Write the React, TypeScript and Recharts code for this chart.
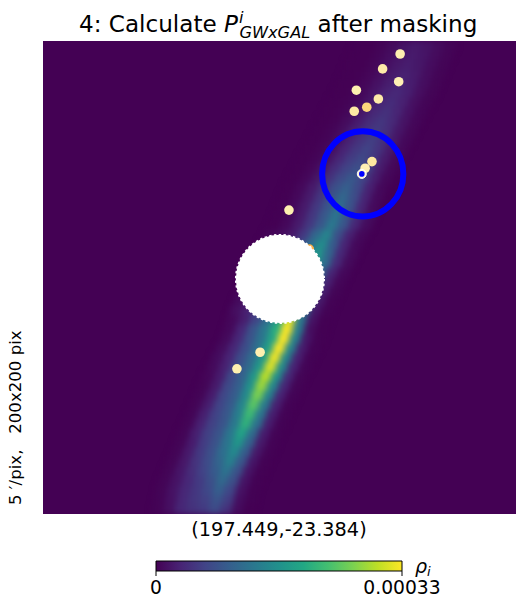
import { ScatterChart, Scatter, XAxis, YAxis, ReferenceArea } from 'recharts';

const FONT = '"DejaVu Sans", sans-serif';
const PLOT = 473;
const PX_PER_UNIT = PLOT / 200;
const CELL = 4;
const COL_STEP = 4.8;
const CORE_INDEX = 5;

const viridis = ['#440154', '#482475', '#414487', '#355f8d', '#2a788e', '#21918c', '#22a884', '#44bf70', '#7ad151', '#bddf26', '#fde725'];

// column (map pixels) of the band's ridge in each 4-pixel row
const rowCore = [
  157.7, 156.2, 154.5, 152.9, 151.2, 149.5, 147.4, 145.2, 143.1, 141,
  139.1, 137, 134.9, 132.8, 130.7, 128.5, 126.9, 125.2, 123.7, 122.2,
  120.1, 118, 116.3, 114.6, 112.5, 110.8, 109.1, 107.4, 105.7, 104.3,
  103.2, 101.8, 99.9, 98, 96.2, 94.1, 92.4, 90.7, 89, 87.3,
  85.8, 83.9, 82.5, 80.8, 79.1, 77.4, 75.7, 74.4, 73.6, 72.7,
];

// probability across each row, as a fraction of the colour range; ridge is at CORE_INDEX
const rowValues = [
  [0, 0, .01, .03, .055, .07, .055, .03, .01],
  [0, 0, .012, .032, .058, .074, .058, .03, .01],
  [0, 0, .013, .035, .063, .08, .062, .032, .01],
  [0, .002, .015, .04, .07, .09, .07, .034, .01],
  [0, .003, .017, .047, .08, .1, .078, .036, .01],
  [0, .004, .02, .053, .092, .115, .087, .04, .01],
  [0, .005, .02, .055, .1, .125, .09, .04, .01],
  [0, .006, .025, .065, .112, .14, .102, .047, .012],
  [0, .007, .03, .075, .124, .155, .115, .053, .014],
  [0, .008, .034, .085, .137, .17, .127, .06, .016],
  [0, .009, .037, .092, .146, .183, .137, .065, .018],
  [0, .01, .04, .1, .16, .2, .15, .07, .02],
  [0, .012, .046, .11, .176, .22, .163, .073, .02],
  [0, .014, .054, .125, .195, .245, .18, .077, .02],
  [0, .017, .062, .14, .22, .275, .2, .085, .02],
  [0, .02, .07, .15, .24, .3, .22, .09, .02],
  [0, .02, .07, .155, .25, .33, .235, .097, .024],
  [0, .02, .07, .16, .26, .36, .25, .105, .027],
  [0, .02, .07, .16, .27, .385, .26, .11, .03],
  [0, .02, .07, .16, .27, .4, .27, .11, .03],
  [.01, .03, .07, .17, .33, .45, .24, .09, .02],
  [.01, .04, .08, .19, .36, .48, .28, .1, .02],
  [.01, .04, .09, .2, .38, .52, .32, .11, .025],
  [.01, .05, .1, .22, .41, .56, .36, .12, .025],
  [.02, .05, .11, .24, .43, .6, .34, .1, .02],
  [.02, .06, .13, .26, .46, .65, .34, .09, .015],
  [.03, .07, .15, .3, .5, .72, .35, .08, .01],
  [.03, .08, .17, .32, .52, .8, .36, .07, .005],
  [.04, .09, .19, .34, .54, .9, .38, .06, .005],
  [.02, .08, .2, .35, .56, .96, .4, .05, 0],
  [.02, .11, .26, .4, .62, 1, .42, .04, 0],
  [.025, .11, .25, .38, .58, 1, .44, .06, .003],
  [.03, .11, .23, .36, .55, 1, .45, .08, .005],
  [.03, .1, .23, .35, .54, .98, .46, .09, .007],
  [.025, .09, .225, .33, .53, .95, .48, .1, .008],
  [.015, .075, .22, .315, .525, .9, .5, .115, .01],
  [.01, .07, .215, .3, .5, .85, .47, .11, .01],
  [.01, .075, .21, .29, .47, .8, .44, .1, .008],
  [.01, .08, .2, .28, .45, .74, .41, .09, .007],
  [.01, .085, .195, .27, .42, .68, .39, .085, .006],
  [.01, .09, .19, .26, .4, .64, .375, .08, .005],
  [.01, .085, .185, .257, .39, .58, .345, .075, .005],
  [.01, .075, .175, .25, .38, .52, .31, .07, .005],
  [.01, .07, .165, .245, .36, .47, .29, .065, .005],
  [.01, .065, .15, .225, .32, .43, .27, .06, .004],
  [.01, .06, .13, .2, .28, .38, .25, .055, .003],
  [.01, .05, .11, .17, .24, .34, .24, .05, .003],
  [.01, .05, .11, .16, .215, .3, .21, .045, .002],
  [.008, .045, .11, .155, .19, .26, .18, .035, .002],
  [.005, .04, .11, .145, .17, .23, .15, .03, .001],
];

const galaxyX = [151, 143.6, 150.4, 132.5, 141.8, 136.9, 131.6, 139.1, 136.2, 104, 91.8, 82];
const galaxyY = [5.5, 11.8, 17.2, 20.8, 24.5, 28, 29.7, 51, 53.8, 71.5, 131.6, 138.6];
const galaxyColor = ['#fef0b0', '#feeaa8', '#fef0b4', '#fef0b0', '#feeaa8', '#fed77c', '#fee9a4', '#fee8a0', '#fef0b4', '#fef0b0', '#fef0b0', '#fef0b0'];

const maskedGalaxy = [{ x: 112.6, y: 88, color: '#fdb048' }];
const hostPoint = [{ x: 134.8, y: 56.2 }];
const ringCenter = [{ x: 135.2, y: 56.2 }];
const maskCenter = [{ x: 100.2, y: 100.6 }];
const MASK_RADIUS = 19;

const cbarTicks = [0, 0.00033];
const cbarTickLabels = ['0', '0.00033'];
const cbarAnchor = cbarTicks.map((x) => ({ x, y: 0 }));

const colorFor = (v: number) => {
  const t = Math.min(1, Math.max(0, v)) * (viridis.length - 1);
  const i = Math.min(viridis.length - 2, Math.floor(t));
  const parse = (h: string) => [1, 3, 5].map((k) => parseInt(h.slice(k, k + 2), 16));
  const a = parse(viridis[i]);
  const b = parse(viridis[i + 1]);
  const c = a.map((ch, k) => Math.round(ch + (b[k] - ch) * (t - i)));
  return `rgb(${c[0]},${c[1]},${c[2]})`;
};

const heatCells = rowValues.flatMap((row, r) =>
  row.map((v, k) => ({ x: rowCore[r] + (k - CORE_INDEX) * COL_STEP, y: (r + 0.5) * CELL, v }))
);
const galaxies = galaxyX.map((x, i) => ({ x, y: galaxyY[i], color: galaxyColor[i] }));

const cellShape = (p: any) => {
  const w = COL_STEP * PX_PER_UNIT + 0.6;
  const h = CELL * PX_PER_UNIT + 0.6;
  return <rect x={p.cx - w / 2} y={p.cy - h / 2} width={w} height={h} fill={colorFor(p.payload.v)} />;
};

// dashed white edge gives the rough look of the masked map pixels
const maskShape = (p: any) => (
  <circle
    cx={p.cx}
    cy={p.cy}
    r={MASK_RADIUS * PX_PER_UNIT - 0.8}
    fill="#fff"
    stroke="#fff"
    strokeWidth={1.8}
    strokeDasharray="2.4 2.4"
  />
);

const galaxyShape = (p: any) => <circle cx={p.cx} cy={p.cy} r={4.8} fill={p.payload.color} />;
const ringShape = (p: any) => <ellipse cx={p.cx} cy={p.cy} rx={40.6} ry={42.6} fill="none" stroke="#0000ff" strokeWidth={6} />;
const hostShape = (p: any) => (
  <g>
    <circle cx={p.cx} cy={p.cy} r={4.5} fill="#fef6d0" stroke="#fff" strokeWidth={1} />
    <circle cx={p.cx} cy={p.cy} r={2.8} fill="#0000ff" />
  </g>
);
const noShape = () => <g />;

const absText = { position: 'absolute', fontFamily: FONT, color: '#000', whiteSpace: 'pre', lineHeight: 1 } as const;

export default function App() {
  return (
    <div style={{ position: 'absolute', left: 0, top: 0, width: 525, height: 609, background: '#fff', overflow: 'hidden' }}>
      <style>{'.heat-cells{filter:url(#heatBlur)}'}</style>

      <svg width={525} height={41} style={{ position: 'absolute', left: 0, top: 0 }}>
        <text x={79} y={32} fontFamily={FONT} fontSize={23.1} fill="#000">
          4: Calculate <tspan fontStyle="italic">P</tspan>
          <tspan fontStyle="italic" fontSize={16.2} dy={-9} dx={1}>i</tspan>
          <tspan fontStyle="italic" fontSize={16.2} dy={15} dx={-4}>GWxGAL</tspan>
          <tspan dy={-6}> after masking</tspan>
        </text>
      </svg>

      <div style={{ position: 'absolute', left: 43, top: 41 }}>
        <ScatterChart width={PLOT} height={PLOT} margin={{ top: 0, right: 0, bottom: 0, left: 0 }} style={{ background: '#440154' }}>
          <defs>
            <filter id="heatBlur" filterUnits="userSpaceOnUse" x={0} y={0} width={PLOT} height={PLOT} colorInterpolationFilters="sRGB">
              <feGaussianBlur stdDeviation={3.4} edgeMode="duplicate" />
            </filter>
          </defs>
          <XAxis type="number" dataKey="x" domain={[0, 200]} hide />
          <YAxis type="number" dataKey="y" domain={[0, 200]} reversed hide />
          <Scatter data={heatCells} shape={cellShape} className="heat-cells" isAnimationActive={false} />
          <Scatter data={maskedGalaxy} shape={galaxyShape} isAnimationActive={false} />
          <Scatter data={maskCenter} shape={maskShape} isAnimationActive={false} />
          <Scatter data={ringCenter} shape={ringShape} isAnimationActive={false} />
          <Scatter data={galaxies} shape={galaxyShape} isAnimationActive={false} />
          <Scatter data={hostPoint} shape={hostShape} isAnimationActive={false} />
        </ScatterChart>
      </div>

      <div style={{ ...absText, left: 0, width: 558, top: 520, fontSize: 19.3, textAlign: 'center' }}>(197.449,-23.384)</div>
      <svg width={30} height={200} style={{ position: 'absolute', left: 0, top: 320 }}>
        <text transform="translate(21,185) rotate(-90)" fontFamily={FONT} fontSize={16.6} fill="#000" xmlSpace="preserve">5 ′/pix,   200x200 pix</text>
      </svg>

      <div style={{ position: 'absolute', left: 100, top: 555 }}>
        <ScatterChart width={380} height={50} margin={{ top: 6, right: 78, bottom: 0, left: 56 }}>
          <defs>
            <linearGradient id="cbarGradient" x1="0" y1="0" x2="1" y2="0">
              {viridis.map((c, i) => (
                <stop key={c} offset={i / (viridis.length - 1)} stopColor={c} />
              ))}
            </linearGradient>
          </defs>
          <XAxis
            type="number"
            dataKey="x"
            domain={[0, 0.00033]}
            ticks={cbarTicks}
            interval={0}
            height={34}
            axisLine={false}
            tickSize={5}
            tickMargin={5}
            tickLine={{ stroke: '#000' }}
            tick={{ fill: '#000', fontFamily: FONT, fontSize: 18.7 }}
            tickFormatter={(v: number) => cbarTickLabels[cbarTicks.indexOf(v)]}
          />
          <YAxis type="number" dataKey="y" domain={[0, 1]} hide />
          <Scatter data={cbarAnchor} shape={noShape} isAnimationActive={false} />
          <ReferenceArea x1={0} x2={0.00033} y1={0} y2={1} fill="url(#cbarGradient)" fillOpacity={1} stroke="#000" strokeWidth={1} />
        </ScatterChart>
      </div>
      <div style={{ ...absText, left: 415, top: 557, fontSize: 19, fontStyle: 'italic' }}>
        ρ<sub style={{ fontSize: 13, verticalAlign: -3 }}>i</sub>
      </div>
    </div>
  );
}
